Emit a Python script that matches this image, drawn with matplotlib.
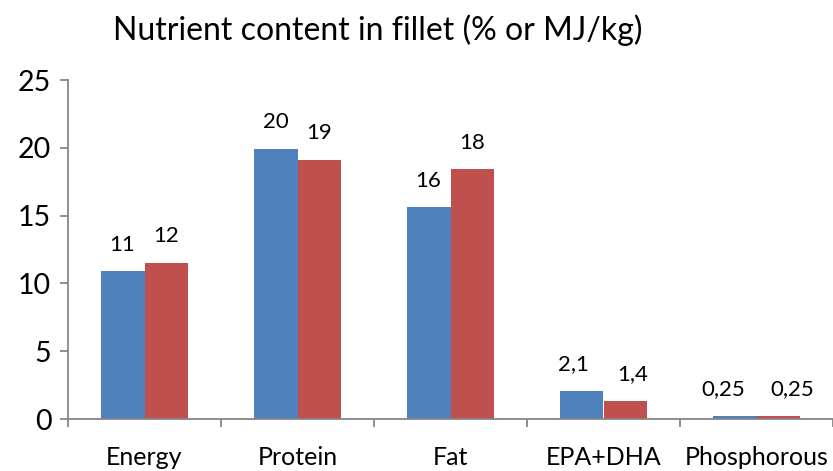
import numpy as np
from matplotlib import pyplot as plt

categories = ["Energy", "Protein", "Fat", "EPA+DHA", "Phosphorous"]
series_a = [10.9, 19.9, 15.6, 2.1, 0.25]
series_b = [11.5, 19.1, 18.4, 1.35, 0.25]
labels_a = ["11", "20", "16", "2,1", "0,25"]
labels_b = ["12", "19", "18", "1,4", "0,25"]
yticks = [0, 5, 10, 15, 20, 25]

# horizontal nudges (points) of the value labels, as placed in the original
nudge_a = [0, 0, 0, -6, -8]
nudge_b = [0, 0, 0, 5, 10]

blue = "#4F81BD"
red = "#C0504D"
grey = "#868686"

plt.rcParams["font.family"] = ["Lato", "DejaVu Sans"]

fig = plt.figure(figsize=(8.33, 4.71), dpi=100)
ax = fig.add_axes([68 / 833, 1 - 419 / 471, (833 - 68) / 833, (419 - 80) / 471])

x = np.arange(len(categories))
w = 0.287
bars_a = ax.bar(x - w / 2, series_a, w, color=blue, edgecolor="none")
bars_b = ax.bar(x + w / 2, series_b, w, color=red, edgecolor="none")

for bars, labels, nudge in ((bars_a, labels_a, nudge_a), (bars_b, labels_b, nudge_b)):
    for b, lab, dx in zip(bars, labels, nudge):
        ax.annotate(lab, (b.get_x() + b.get_width() / 2, b.get_height()),
                    xytext=(dx, 12), textcoords="offset points",
                    ha="center", va="bottom", fontsize=16)

ax.set_xlim(-0.5, len(categories) - 0.5)
ax.set_ylim(0, 25)
ax.set_yticks(yticks)
ax.set_yticklabels([str(t) for t in yticks], fontsize=20.5)

ax.set_xticks(x)
ax.set_xticklabels(categories, fontsize=18)
ax.tick_params(axis="x", which="major", length=0, pad=19.5)
ax.set_xticks(np.arange(-0.5, len(categories)), minor=True)
ax.tick_params(axis="x", which="minor", length=6, color=grey, width=1.3)
ax.tick_params(axis="y", length=6, color=grey, width=1.3, pad=6)

for side in ("top", "right"):
    ax.spines[side].set_visible(False)
for side in ("left", "bottom"):
    ax.spines[side].set_color(grey)
    ax.spines[side].set_linewidth(1.3)

fig.text(378 / 833, 1 - 30 / 471, "Nutrient content in fillet (% or MJ/kg)",
         ha="center", va="center", fontsize=23)

plt.savefig("out.png", dpi=100)
plt.close(fig)
